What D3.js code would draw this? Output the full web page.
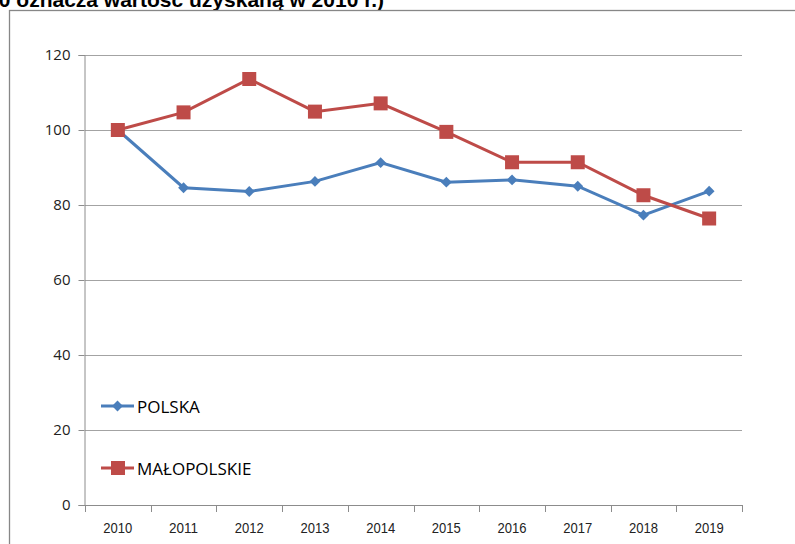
<!DOCTYPE html>
<html>
<head>
<meta charset="utf-8">
<script src="https://cdn.jsdelivr.net/npm/d3@7"></script>
<style>
  body { margin: 0; background: #fff; }
  svg { display: block; }
</style>
</head>
<body>
<div id="chart"></div>
<script>
// chart data
var years = ["2010", "2011", "2012", "2013", "2014", "2015", "2016", "2017", "2018", "2019"];
var polska = [100, 84.6, 83.6, 86.3, 91.3, 86.1, 86.7, 85.0, 77.3, 83.7];
var malopolskie = [100, 104.7, 113.6, 104.9, 107.1, 99.5, 91.4, 91.4, 82.6, 76.4];
var yTicks = [0, 20, 40, 60, 80, 100, 120];
var seriesNames = ["POLSKA", "MAŁOPOLSKIE"];
var titleText = "= 100 oznacza wartość uzyskaną w 2010 r.)";

var svgWidth = 795;
var svgHeight = 544;

var svg = d3.select("#chart")
    .append("svg")
    .attr("width", svgWidth)
    .attr("height", svgHeight);

// title line, cut at the top edge like in the source page
svg.append("text")
    .attr("x", 384)
    .attr("y", 7)
    .attr("text-anchor", "end")
    .attr("font-family", "Liberation Sans, Arial, sans-serif")
    .attr("font-weight", "bold")
    .attr("font-size", 21)
    .attr("fill", "#000")
    .text(titleText);

// chart frame (extends past the window on right/bottom)
svg.append("rect")
    .attr("x", 9.5)
    .attr("y", 10.5)
    .attr("width", 900)
    .attr("height", 700)
    .attr("fill", "none")
    .attr("stroke", "#878787")
    .attr("stroke-width", 1.3);

// scales
var x = d3.scaleBand()
    .domain(years)
    .range([85, 742])
    .padding(0);

var y = d3.scaleLinear()
    .domain([0, 120])
    .range([505, 55]);

var cx = d => x(d) + x.bandwidth() / 2;

// gridlines
svg.append("g").selectAll("line")
    .data(yTicks.filter(d => d > 0))
    .enter()
    .append("line")
    .attr("x1", 85)
    .attr("x2", 742)
    .attr("y1", d => Math.round(y(d)) + 0.5)
    .attr("y2", d => Math.round(y(d)) + 0.5)
    .attr("stroke", "#a3a3a3")
    .attr("stroke-width", 1);

// y axis
var leftAxis = d3.axisLeft(y)
    .tickValues(yTicks)
    .tickSize(6)
    .tickPadding(8);

var yAxis = svg.append("g")
    .attr("transform", "translate(84.5,0)")
    .call(leftAxis);
yAxis.select(".domain").attr("stroke", "#8c8c8c");
yAxis.selectAll(".tick line").attr("stroke", "#8c8c8c");
yAxis.selectAll(".tick text")
    .attr("font-family", "Open Sans, sans-serif")
    .attr("font-size", 15)
    .attr("fill", "#222");

// x axis: line, boundary ticks, centered labels
svg.append("line")
    .attr("x1", 84.5)
    .attr("x2", 742)
    .attr("y1", 505.5)
    .attr("y2", 505.5)
    .attr("stroke", "#8c8c8c");

var edges = years.map(d => x(d)).concat([x.range()[1]]);
svg.append("g").selectAll("line")
    .data(edges)
    .enter()
    .append("line")
    .attr("x1", d => Math.round(d) + 0.5)
    .attr("x2", d => Math.round(d) + 0.5)
    .attr("y1", 505)
    .attr("y2", 512)
    .attr("stroke", "#8c8c8c");

svg.append("g").selectAll("text")
    .data(years)
    .enter()
    .append("text")
    .attr("x", d => cx(d))
    .attr("y", 533)
    .attr("text-anchor", "middle")
    .attr("font-family", "Liberation Sans, Arial, sans-serif")
    .attr("font-size", 15)
    .attr("textLength", 29)
    .attr("lengthAdjust", "spacingAndGlyphs")
    .attr("fill", "#222")
    .text(d => d);

// lines
var line = d3.line()
    .x((d, i) => cx(years[i]))
    .y(d => y(d));

var blue = "#4a7ebb";
var red = "#be4b48";

svg.append("path")
    .datum(polska)
    .attr("d", line)
    .attr("fill", "none")
    .attr("stroke", blue)
    .attr("stroke-width", 3);

svg.append("path")
    .datum(malopolskie)
    .attr("d", line)
    .attr("fill", "none")
    .attr("stroke", red)
    .attr("stroke-width", 3);

// markers
var diamond = d3.symbol().type(d3.symbolDiamond2).size(75);

svg.append("g").selectAll("path")
    .data(polska)
    .enter()
    .append("path")
    .attr("d", diamond)
    .attr("transform", (d, i) => `translate(${cx(years[i])},${y(d)})`)
    .attr("fill", blue);

svg.append("g").selectAll("rect")
    .data(malopolskie)
    .enter()
    .append("rect")
    .attr("x", (d, i) => cx(years[i]) - 7)
    .attr("y", d => y(d) - 7)
    .attr("width", 14)
    .attr("height", 14)
    .attr("fill", red);

// legend
var legendY = [406, 468];
var legendColors = [blue, red];
var legend = svg.append("g").selectAll("g")
    .data(seriesNames)
    .enter()
    .append("g")
    .attr("transform", (d, i) => `translate(0,${legendY[i]})`);

legend.append("line")
    .attr("x1", 101)
    .attr("x2", 134)
    .attr("stroke", (d, i) => legendColors[i])
    .attr("stroke-width", 3);

legend.filter((d, i) => i === 0)
    .append("path")
    .attr("d", diamond)
    .attr("transform", "translate(117.5,0)")
    .attr("fill", blue);

legend.filter((d, i) => i === 1)
    .append("rect")
    .attr("x", 111)
    .attr("y", -7)
    .attr("width", 14)
    .attr("height", 14)
    .attr("fill", red);

legend.append("text")
    .attr("x", 137)
    .attr("y", 6.5)
    .attr("font-family", "Open Sans, sans-serif")
    .attr("font-size", 17)
    .attr("fill", "#000")
    .text(d => d);
</script>
</body>
</html>
